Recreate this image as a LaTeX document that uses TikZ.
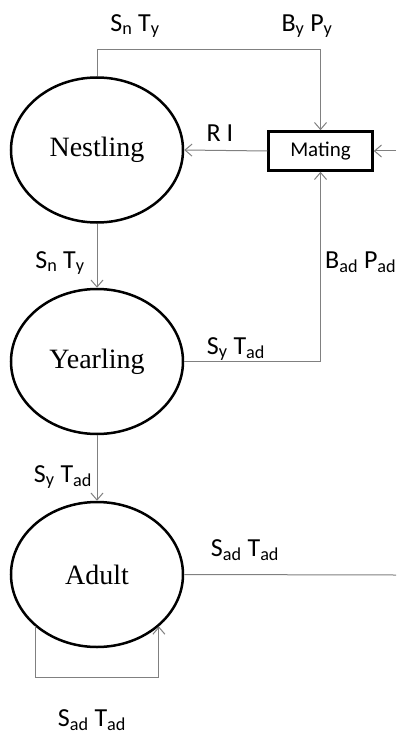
\documentclass[tikz,border=0pt]{standalone}
\usepackage{fontspec}
\setmainfont{Liberation Serif}
\newfontfamily\lblfont{Carlito}
\usetikzlibrary{shapes.geometric,arrows.meta}
\begin{document}
\begin{tikzpicture}[x=1pt,y=-1pt,
  state/.style={ellipse,draw,line width=2.5pt,minimum width=172pt,minimum height=145pt,inner sep=0pt,font=\fontsize{28}{32}\selectfont},
  matebox/.style={rectangle,draw,line width=2.5pt,minimum width=104pt,minimum height=39pt,inner sep=0pt,font=\lblfont\fontsize{21}{24}\selectfont},
  conn/.style={draw=gray,line width=1pt},
  arr/.style={conn,-{Straight Barb[length=7pt,width=12pt]}},
  lbl/.style={font=\lblfont\fontsize{26}{30}\selectfont,inner sep=0pt}]
\useasboundingbox (0,0) rectangle (396,735);
\node[state] (nest) at (97,150) {Nestling};
\node[state] (year) at (97,361.5) {Yearling};
\node[state] (adult) at (97,574.5) {Adult};
\node[matebox] (mat) at (320.5,151) {Mating};
\coordinate (eR) at (396,151);
\coordinate (eA) at (396,575);
% connectors
\draw[arr] (nest.north) -- ++(0,-27) -| (mat.north);
\draw[arr] (mat.west) -- (nest.east);
\draw[arr] (eR) -- (mat.east);
\draw[arr] (year.east) -| (mat.south);
\draw[arr] (nest.south) -- (year.north);
\draw[arr] (year.south) -- (adult.north);
\draw[conn] (adult.east) -- (eA);
\draw[arr] (adult.220) -- ++(0,51) -| (adult.320);
% labels
\node[lbl] (l1) at (135,26) {S\textsubscript{n} T\textsubscript{y}};
\node[lbl] (l2) at (307,26) {B\textsubscript{y} P\textsubscript{y}};
\node[lbl] (l3) at (220,133) {R I};
\node[lbl,anchor=west] (l4) at (325,262) {B\textsubscript{ad} P\textsubscript{ad}};
\node[lbl] (l5) at (236,349) {S\textsubscript{y} T\textsubscript{ad}};
\node[lbl] (l6) at (60,263) {S\textsubscript{n} T\textsubscript{y}};
\node[lbl] (l7) at (63,477) {S\textsubscript{y} T\textsubscript{ad}};
\node[lbl] (l8) at (245,550) {S\textsubscript{ad} T\textsubscript{ad}};
\node[lbl] (l9) at (92,720) {S\textsubscript{ad} T\textsubscript{ad}};
\end{tikzpicture}
\end{document}
